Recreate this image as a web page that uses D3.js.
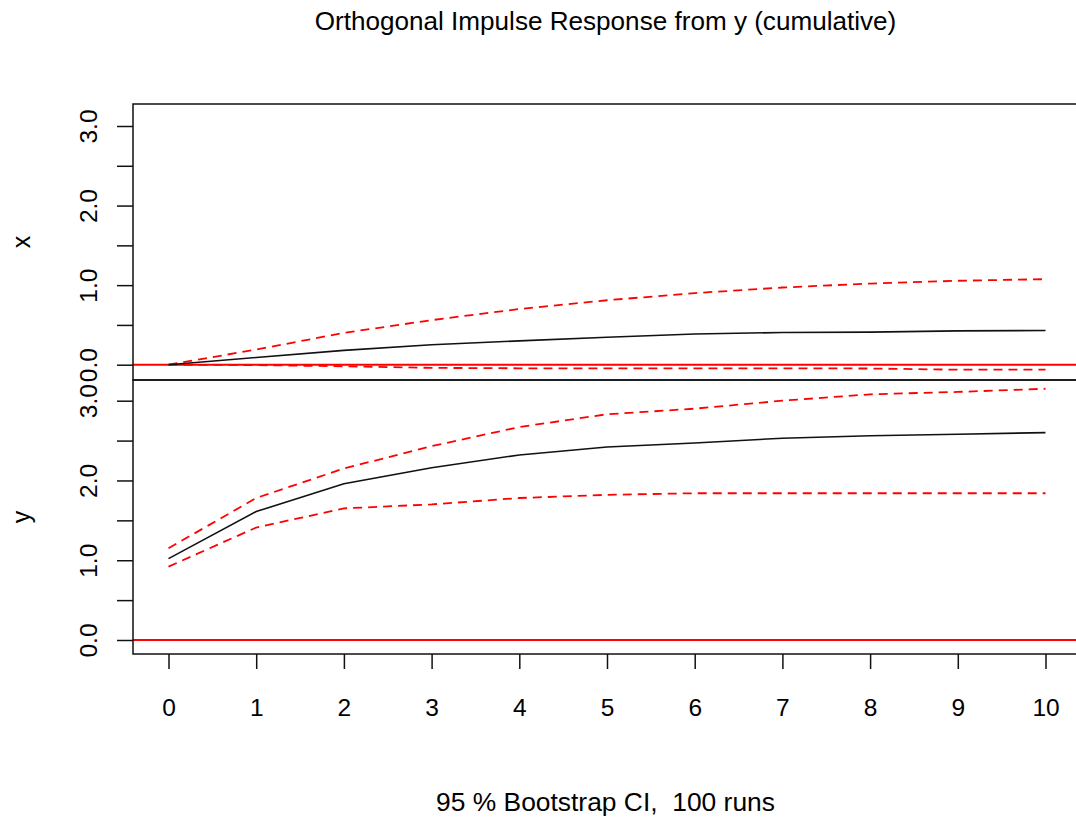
<!DOCTYPE html>
<html>
  <head>
    <meta charset="utf-8">
    <script type="text/javascript" src="https://cdn.jsdelivr.net/npm/d3@7/dist/d3.min.js"></script>
    <style media="screen">
    body{
      margin:0;
      background-color:#fff;
    }
    text{
      font-family:"Liberation Sans",Arial,sans-serif;
      fill:#000;
    }
    .ci{
      fill:none;
      stroke:#ff0000;
      stroke-width:1.8;
      stroke-dasharray:9,6;
    }
    .irf{
      fill:none;
      stroke:#111;
      stroke-width:1.6;
    }
    .zero{
      stroke:#ff0000;
      stroke-width:2;
    }
    </style>
    <title>IRF</title>
  </head>
  <body>
    <div id="graph"></div>

    <script type="text/javascript">

    var steps=[0,1,2,3,4,5,6,7,8,9,10];
    // response of x
    var xIrf=[0,0.09,0.18,0.25,0.30,0.345,0.385,0.405,0.41,0.425,0.43];
    var xLower=[0,-0.005,-0.02,-0.04,-0.045,-0.045,-0.045,-0.045,-0.048,-0.063,-0.063];
    var xUpper=[0,0.19,0.40,0.56,0.70,0.81,0.90,0.97,1.02,1.055,1.075];
    // response of y
    var yIrf=[1.02,1.61,1.96,2.16,2.32,2.42,2.47,2.53,2.56,2.58,2.60];
    var yLower=[0.92,1.41,1.65,1.70,1.78,1.82,1.84,1.84,1.84,1.84,1.84];
    var yUpper=[1.15,1.78,2.15,2.43,2.67,2.83,2.90,3.00,3.08,3.11,3.15];

    var yTicks=[0,0.5,1,1.5,2,2.5,3];
    var yLabels=[0,1,2,3];
    var panelNames=["x","y"];

    var width=1076;
    var height=817;
    var left=133,right=1078;

    var svg=d3.select('#graph').append('svg')
      .attr('width',width).attr('height',height);

    var x=d3.scaleLinear().domain([0,10]).range([168.5,1045.5]);

    var panels=[
      {name:panelNames[0],top:104,bottom:380,y:d3.scaleLinear().domain([0,3]).range([364.7,126]),
        irf:xIrf,lower:xLower,upper:xUpper},
      {name:panelNames[1],top:380,bottom:654,y:d3.scaleLinear().domain([0,3]).range([640,400.7]),
        irf:yIrf,lower:yLower,upper:yUpper}
    ];

    panels.forEach(function(p){
      var g=svg.append('g');

      g.append('line').attr('class','zero')
        .attr('x1',left).attr('x2',right)
        .attr('y1',p.y(0)).attr('y2',p.y(0));

      var line=d3.line()
        .x(function(d,i){return x(steps[i]);})
        .y(function(d){return p.y(d);});

      g.append('path').datum(p.upper).attr('class','ci').attr('d',line);
      g.append('path').datum(p.lower).attr('class','ci').attr('d',line);
      g.append('path').datum(p.irf).attr('class','irf').attr('d',line);

      g.append('rect')
        .attr('x',left).attr('y',p.top)
        .attr('width',right-left).attr('height',p.bottom-p.top)
        .attr('fill','none').attr('stroke','#111').attr('stroke-width',1.5);

      var ax=g.append('g').attr('transform','translate('+left+',0)')
        .call(d3.axisLeft(p.y).tickValues(yTicks).tickSize(16)
          .tickFormat(function(d){return yLabels.indexOf(d)>=0?d3.format('.1f')(d):'';}));
      ax.select('.domain').remove();
      ax.selectAll('.tick line').attr('stroke','#111').attr('stroke-width',1.5);
      ax.selectAll('.tick text')
        .attr('transform','rotate(-90)')
        .attr('x',0).attr('y',-36).attr('dy',0)
        .attr('text-anchor','middle')
        .style('font-size','24.5px')
        .attr('font-family',null).attr('font-size',null);

      g.append('text')
        .attr('transform','translate(30,'+((p.top+p.bottom)/2)+') rotate(-90)')
        .attr('text-anchor','middle')
        .style('font-size','25px')
        .text(p.name);
    });

    var bx=svg.append('g').attr('transform','translate(0,654)')
      .call(d3.axisBottom(x).tickValues(steps).tickSize(15).tickFormat(d3.format('d')));
    bx.select('.domain').remove();
    bx.selectAll('.tick line').attr('stroke','#111').attr('stroke-width',1.5);
    bx.selectAll('.tick text')
      .attr('y',62).attr('dy',0)
      .style('font-size','24.5px')
      .attr('font-family',null).attr('font-size',null);

    svg.append('text')
      .attr('x',(left+right)/2).attr('y',30)
      .attr('text-anchor','middle')
      .style('font-size','26.1px')
      .text('Orthogonal Impulse Response from y (cumulative)');

    svg.append('text')
      .attr('x',(left+right)/2).attr('y',811)
      .attr('text-anchor','middle')
      .style('font-size','26.4px')
      .style('white-space','pre')
      .text('95 % Bootstrap CI,  100 runs');

    </script>
  </body>
</html>
